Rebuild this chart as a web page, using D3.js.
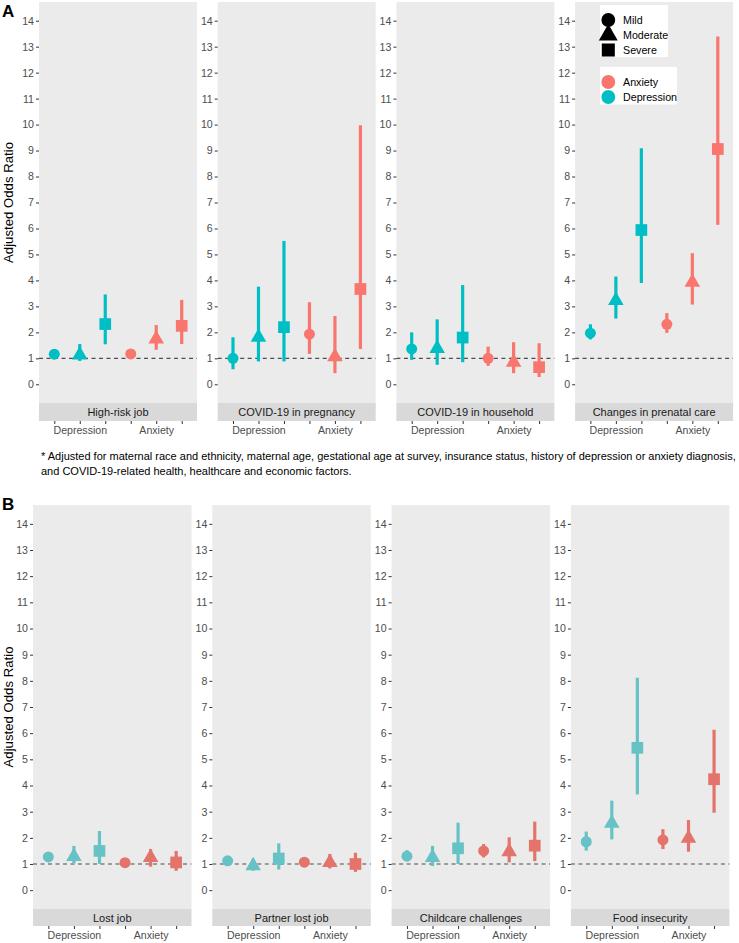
<!DOCTYPE html>
<html><head><meta charset="utf-8">
<script src="https://cdn.jsdelivr.net/npm/d3@7"></script>
<style>body{margin:0;background:#fff} svg{display:block}</style>
</head><body>
<svg id="chart" width="739" height="943"></svg>
<script>
// ---------- DATA ----------
const categories = ["Dep-Mild","Dep-Moderate","Dep-Severe","Anx-Mild","Anx-Moderate","Anx-Severe"];
const groupOf = ["Depression","Depression","Depression","Anxiety","Anxiety","Anxiety"];
const severityOf = ["Mild","Moderate","Severe","Mild","Moderate","Severe"];
const xTickLabels = ["", "Depression", "", "", "Anxiety", ""];
const yTicks = [0,1,2,3,4,5,6,7,8,9,10,11,12,13,14];
const severityLegend = ["Mild","Moderate","Severe"];
const colorLegend = ["Anxiety","Depression"];

const panelATitles = ["High-risk job","COVID-19 in pregnancy","COVID-19 in household","Changes in prenatal care"];
const panelAOR = [
  [1.16,1.13,2.32,1.17,1.74,2.25],
  [1.00,1.81,2.20,1.93,1.06,3.67],
  [1.36,1.38,1.80,1.00,0.85,0.66],
  [1.97,3.23,5.94,2.31,3.93,9.06]
];
const panelALo = [
  [1.00,0.90,1.54,1.05,1.33,1.55],
  [0.58,0.88,0.88,1.17,0.43,1.36],
  [0.94,0.75,0.85,0.71,0.43,0.28],
  [1.73,2.53,3.90,1.98,3.07,6.14]
];
const panelAHi = [
  [1.35,1.55,3.46,1.35,2.28,3.25],
  [1.81,3.76,5.52,3.16,2.63,9.97],
  [2.00,2.50,3.82,1.45,1.62,1.58],
  [2.31,4.15,9.09,2.74,5.05,13.39]
];

const panelBTitles = ["Lost job","Partner lost job","Childcare challenges","Food insecurity"];
const panelBOR = [
  [1.27,1.29,1.50,1.05,1.25,1.06],
  [1.12,0.93,1.21,1.07,1.06,1.00],
  [1.30,1.25,1.60,1.50,1.47,1.70],
  [1.85,2.56,5.44,1.92,1.98,4.24]
];
const panelBLo = [
  [1.12,1.02,1.00,0.97,0.90,0.74],
  [1.00,0.74,0.79,0.96,0.83,0.70],
  [1.11,0.92,1.00,1.25,1.06,1.11],
  [1.51,1.94,3.66,1.57,1.47,2.96]
];
const panelBHi = [
  [1.38,1.69,2.26,1.12,1.57,1.50],
  [1.22,1.20,1.79,1.18,1.38,1.43],
  [1.53,1.69,2.58,1.76,2.02,2.62],
  [2.24,3.42,8.12,2.33,2.68,6.13]
];

const footnote1 = "* Adjusted for maternal race and ethnicity, maternal age, gestational age at survey, insurance status, history of depression or anxiety diagnosis,";
const footnote2 = "and COVID-19-related health, healthcare and economic factors.";

// ---------- STYLE ----------
const FONT = "'Liberation Sans', Arial, Helvetica, sans-serif";
const svg = d3.select("#chart");
svg.append("rect").attr("width",739).attr("height",943).attr("fill","#fff");

const shapeSym = {Mild: d3.symbolCircle, Moderate: d3.symbolTriangle, Severe: d3.symbolSquare};
const shapeSize = {Mild: 95, Moderate: 105, Severe: 137};

function drawFigure(cfg) {
  const y = d3.scaleLinear().domain([-0.72, 14.72]).range([cfg.bottom, cfg.top]);
  const color = cfg.colors;
  cfg.titles.forEach((title, i) => {
    const left = cfg.left0 + i * cfg.step;
    const x = d3.scalePoint().domain(categories).range([left, left + cfg.width]).padding(0.6);
    const g = svg.append("g");
    g.append("rect").attr("x", left).attr("y", cfg.top).attr("width", cfg.width)
      .attr("height", cfg.bottom - cfg.top).attr("fill", "#EBEBEB");
    g.append("rect").attr("x", left).attr("y", cfg.bottom).attr("width", cfg.width)
      .attr("height", cfg.strip).attr("fill", "#D9D9D9");
    g.append("text").attr("x", left + cfg.width/2).attr("y", cfg.bottom + cfg.strip/2 + 4)
      .attr("text-anchor","middle").attr("font-family",FONT).attr("font-size","11px")
      .attr("fill","#1A1A1A").text(title);
    const yAxis = d3.axisLeft(y).tickValues(yTicks).tickSize(3).tickPadding(2).tickFormat(d3.format("d"));
    const ya = g.append("g").attr("transform", `translate(${left},0)`).call(yAxis);
    ya.select(".domain").remove();
    ya.selectAll(".tick line").attr("stroke","#333333");
    ya.selectAll(".tick text").attr("font-family",FONT).attr("font-size","10.6px").attr("fill","#4D4D4D");
    const xAxis = d3.axisBottom(x).tickSize(3).tickPadding(2).tickFormat((d,k) => xTickLabels[k]);
    const xa = g.append("g").attr("transform", `translate(0,${cfg.bottom + cfg.strip})`).call(xAxis);
    xa.select(".domain").remove();
    xa.selectAll(".tick line").attr("stroke","#333333");
    xa.selectAll(".tick text").attr("font-family",FONT).attr("font-size","10.6px").attr("fill","#4D4D4D");
    g.append("line").attr("x1", left).attr("x2", left + cfg.width)
      .attr("y1", y(1)).attr("y2", y(1)).attr("stroke","#4D4D4D")
      .attr("stroke-width",1.1).attr("stroke-dasharray","4,3.5");
    const data = categories.map((c,k) => ({c, k, or: cfg.or[i][k], lo: cfg.lo[i][k], hi: cfg.hi[i][k],
      grp: groupOf[k], sev: severityOf[k]}));
    g.selectAll(".eb").data(data).enter().append("line")
      .attr("x1", d => x(d.c)).attr("x2", d => x(d.c))
      .attr("y1", d => y(d.lo)).attr("y2", d => y(d.hi))
      .attr("stroke", d => color[d.grp]).attr("stroke-width", 3.2);
    g.selectAll(".pt").data(data).enter().append("path")
      .attr("transform", d => `translate(${x(d.c)},${y(d.or)})`)
      .attr("d", d => d3.symbol().type(shapeSym[d.sev]).size(shapeSize[d.sev])())
      .attr("fill", d => color[d.grp]);
  });
  const cy = (cfg.top + cfg.bottom) / 2;
  svg.append("text").attr("transform", `translate(13,${cy}) rotate(-90)`)
    .attr("text-anchor","middle").attr("font-family",FONT).attr("font-size","13.2px")
    .attr("fill","#000").text("Adjusted Odds Ratio");
  svg.append("text").attr("x", 2).attr("y", cfg.letterY).attr("font-family",FONT)
    .attr("font-weight","bold").attr("font-size","17px").attr("fill","#000").text(cfg.letter);
}

drawFigure({
  titles: panelATitles, or: panelAOR, lo: panelALo, hi: panelAHi,
  top: 2, bottom: 403, strip: 18, left0: 39, step: 178.7, width: 158,
  colors: {Anxiety: "#F8766D", Depression: "#00BFC4"}, letter: "A", letterY: 17
});
drawFigure({
  titles: panelBTitles, or: panelBOR, lo: panelBLo, hi: panelBHi,
  top: 505, bottom: 909, strip: 17, left0: 33, step: 179.3, width: 158.5,
  colors: {Anxiety: "#E3736B", Depression: "#66C2C5"}, letter: "B", letterY: 510
});

svg.append("text").attr("x", 41).attr("y", 460).attr("font-family",FONT).attr("font-size","11px")
  .attr("fill","#000").text(footnote1);
svg.append("text").attr("x", 41).attr("y", 475).attr("font-family",FONT).attr("font-size","11px")
  .attr("fill","#000").text(footnote2);

const lg = svg.append("g");
lg.append("rect").attr("x",600).attr("y",5).attr("width",68).attr("height",52).attr("fill","#fff");
lg.append("rect").attr("x",600).attr("y",67).attr("width",77).attr("height",37.5).attr("fill","#fff");
const legSize = {Mild: 150, Moderate: 155, Severe: 170};
severityLegend.forEach((s, k) => {
  const yy = 20 + k * 15;
  lg.append("path").attr("transform", `translate(608.3,${yy})`)
    .attr("d", d3.symbol().type(shapeSym[s]).size(legSize[s])()).attr("fill","#000");
  lg.append("text").attr("x", 623).attr("y", yy + 4).attr("font-family",FONT)
    .attr("font-size","10.7px").attr("fill","#000").text(s);
});
const legColors = {Anxiety: "#F8766D", Depression: "#00BFC4"};
colorLegend.forEach((s, k) => {
  const yy = 82 + k * 15;
  lg.append("path").attr("transform", `translate(608.3,${yy})`)
    .attr("d", d3.symbol().type(d3.symbolCircle).size(150)()).attr("fill", legColors[s]);
  lg.append("text").attr("x", 623).attr("y", yy + 4).attr("font-family",FONT)
    .attr("font-size","10.7px").attr("fill","#000").text(s);
});
</script>
</body></html>
